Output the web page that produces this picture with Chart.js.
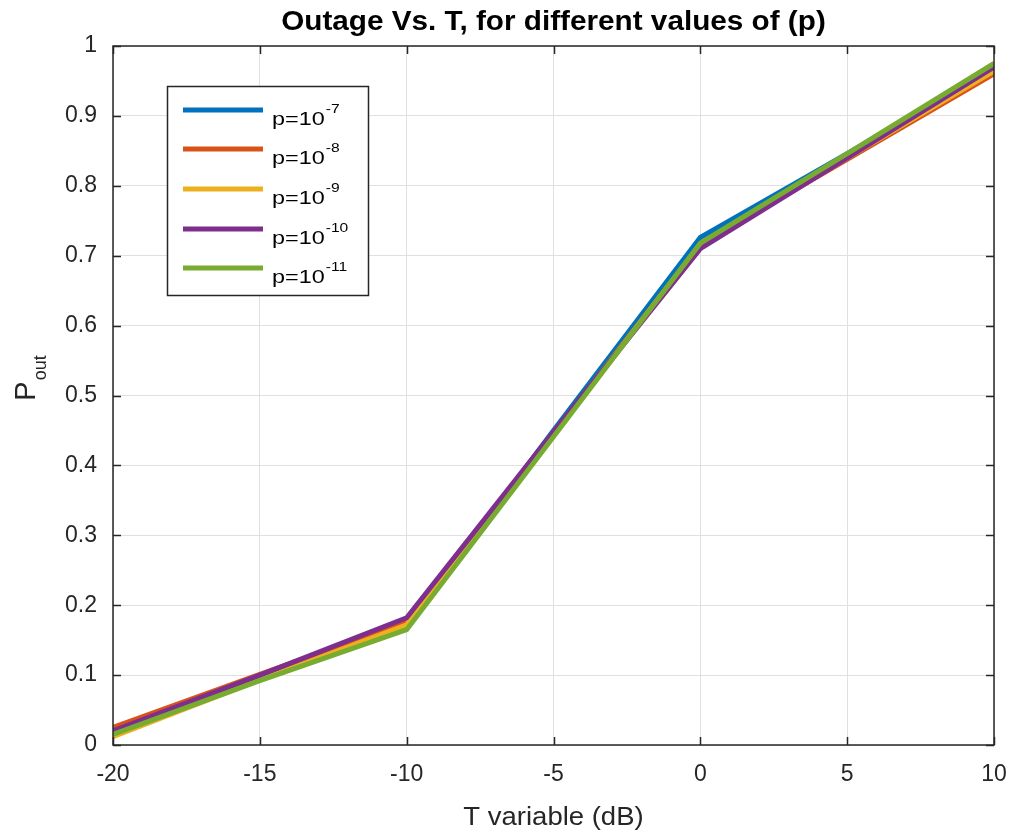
<!DOCTYPE html>
<html>
<head>
<meta charset="utf-8">
<script src="https://cdn.jsdelivr.net/npm/chart.js@4.4.1/dist/chart.umd.min.js"></script>
<style>
  html, body { margin: 0; padding: 0; background: #fff; }
  #c { display: block; }
</style>
</head>
<body>
<canvas id="c" width="1012" height="834"></canvas>
<script>
// T in dB (x axis)
const tValues = [-20, -15, -10, -5, 0, 5, 10];

// outage probability per p
const pout7  = [0.020, 0.097, 0.170, 0.450, 0.726, 0.846, 0.968];
const pout8  = [0.025, 0.101, 0.176, 0.446, 0.716, 0.838, 0.960];
const pout9  = [0.012, 0.093, 0.172, 0.444, 0.716, 0.840, 0.964];
const pout10 = [0.020, 0.100, 0.182, 0.448, 0.710, 0.840, 0.970];
const pout11 = [0.015, 0.092, 0.165, 0.441, 0.718, 0.846, 0.975];

const exponents = ['-7', '-8', '-9', '-10', '-11'];
const seriesColors = ['#0072BD', '#D95319', '#EDB120', '#7E2F8E', '#77AC30'];
const allSeries = [pout7, pout8, pout9, pout10, pout11];

const xTicks = [-20, -15, -10, -5, 0, 5, 10];
const yTicks = [0, 0.1, 0.2, 0.3, 0.4, 0.5, 0.6, 0.7, 0.8, 0.9, 1];

const axisColor = '#262626';
const fontFamily = '"Liberation Sans", Arial, sans-serif';

// 构建数据集
const datasets = allSeries.map((vals, i) => ({
  label: 'p=10^' + exponents[i],
  data: tValues.map((t, k) => ({ x: t, y: vals[k] })),
  borderColor: seriesColors[i],
  backgroundColor: seriesColors[i],
  borderWidth: 5,
  pointRadius: 0,
  tension: 0,
  order: allSeries.length - i
}));

// 横向拉伸的文字（参考图字体偏宽）
function wideText(ctx, text, x, y, sx) {
  ctx.save();
  ctx.translate(x, y);
  ctx.scale(sx, 1);
  ctx.fillText(text, 0, 0);
  ctx.restore();
}

// 框线、内侧刻度、标题、坐标轴名称、图例
const decorPlugin = {
  id: 'decor',
  afterDraw(chart) {
    const { ctx, chartArea: a, scales } = chart;
    const sx = scales.x, sy = scales.y;
    ctx.save();

    // box
    ctx.strokeStyle = axisColor;
    ctx.lineWidth = 1.5;
    ctx.strokeRect(a.left, a.top, a.right - a.left, a.bottom - a.top);

    // inward ticks
    const tl = 8;
    ctx.beginPath();
    xTicks.forEach(v => {
      const px = Math.round(sx.getPixelForValue(v)) + 0.5;
      ctx.moveTo(px, a.bottom); ctx.lineTo(px, a.bottom - tl);
      ctx.moveTo(px, a.top); ctx.lineTo(px, a.top + tl);
    });
    yTicks.forEach(v => {
      const py = Math.round(sy.getPixelForValue(v)) + 0.5;
      ctx.moveTo(a.left, py); ctx.lineTo(a.left + tl, py);
      ctx.moveTo(a.right, py); ctx.lineTo(a.right - tl, py);
    });
    ctx.stroke();

    // title
    ctx.fillStyle = '#000';
    ctx.font = 'bold 27px ' + fontFamily;
    ctx.textAlign = 'center';
    ctx.textBaseline = 'middle';
    wideText(ctx, 'Outage Vs. T, for different values of (p)', (a.left + a.right) / 2, 23, 1.1);

    // x axis name
    ctx.fillStyle = axisColor;
    ctx.font = '25px ' + fontFamily;
    wideText(ctx, 'T variable (dB)', (a.left + a.right) / 2, 818, 1.1);

    // y axis name with subscript
    ctx.save();
    ctx.translate(35, 391);
    ctx.rotate(-Math.PI / 2);
    ctx.textBaseline = 'alphabetic';
    ctx.textAlign = 'center';
    ctx.font = '29px ' + fontFamily;
    const pw = ctx.measureText('P').width;
    ctx.fillText('P', 0, 0);
    ctx.textAlign = 'left';
    ctx.font = '18px ' + fontFamily;
    ctx.fillText('out', pw / 2 + 1, 11);
    ctx.restore();

    // legend
    const lx = 167, ly = 86, lw = 201, lh = 209;
    ctx.fillStyle = '#fff';
    ctx.fillRect(lx, ly, lw, lh);
    ctx.strokeStyle = axisColor;
    ctx.lineWidth = 1.5;
    ctx.strokeRect(lx + 0.5, ly + 0.5, lw, lh);
    const rowY = [110, 149, 189, 229, 268];
    exponents.forEach((e, i) => {
      const y = rowY[i];
      ctx.strokeStyle = seriesColors[i];
      ctx.lineWidth = 5;
      ctx.beginPath();
      ctx.moveTo(183, y); ctx.lineTo(263, y);
      ctx.stroke();
      ctx.fillStyle = '#000';
      ctx.textAlign = 'left';
      ctx.textBaseline = 'alphabetic';
      ctx.font = '18px ' + fontFamily;
      const bw = ctx.measureText('p=10').width * 1.3;
      wideText(ctx, 'p=10', 272, y + 15, 1.3);
      ctx.font = '13px ' + fontFamily;
      wideText(ctx, e, 272 + bw + 1, y + 3, 1.2);
    });

    ctx.restore();
  }
};

new Chart(document.getElementById('c'), {
  type: 'line',
  data: { datasets },
  options: {
    responsive: false,
    animation: false,
    layout: { padding: { top: 46, right: 18, left: 0, bottom: 0 } },
    plugins: {
      legend: { display: false },
      title: { display: false },
      tooltip: { enabled: false }
    },
    scales: {
      x: {
        type: 'linear',
        min: -20,
        max: 10,
        afterFit(scale) {
          scale.height = 89;
          scale.paddingLeft = 0;
          scale.paddingRight = 0;
        },
        afterBuildTicks(scale) { scale.ticks = xTicks.map(v => ({ value: v })); },
        grid: { color: '#e0e0e0', lineWidth: 1, drawTicks: false },
        border: { display: false },
        ticks: {
          padding: 16,
          color: axisColor,
          font: { family: fontFamily, size: 23 },
          maxRotation: 0,
          callback: v => String(v)
        }
      },
      y: {
        type: 'linear',
        min: 0,
        max: 1,
        afterFit(scale) {
          scale.width = 113;
          scale.paddingTop = 0;
          scale.paddingBottom = 0;
        },
        afterBuildTicks(scale) { scale.ticks = yTicks.map(v => ({ value: v })); },
        grid: { color: '#e0e0e0', lineWidth: 1, drawTicks: false },
        border: { display: false },
        ticks: {
          padding: 16,
          color: axisColor,
          font: { family: fontFamily, size: 23 },
          callback: v => String(Math.round(v * 10) / 10)
        }
      }
    }
  },
  plugins: [decorPlugin]
});
</script>
</body>
</html>
